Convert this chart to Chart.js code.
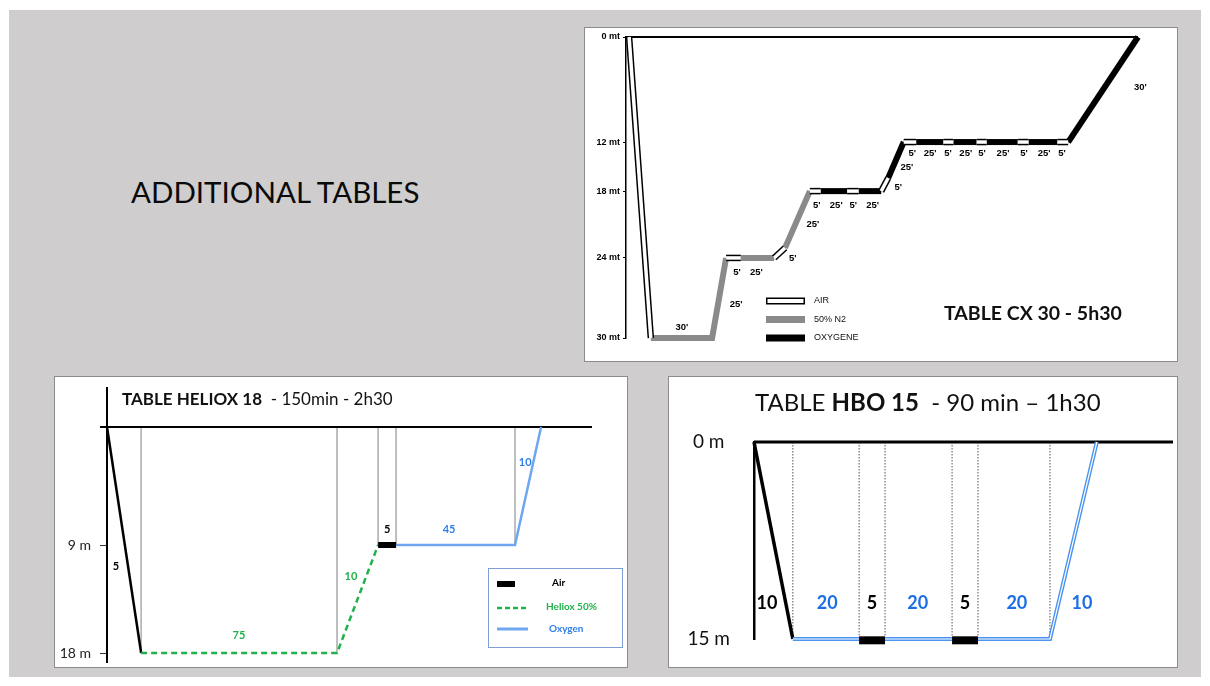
<!DOCTYPE html>
<html lang="fr">
<head>
<meta charset="utf-8">
<title>Additional tables</title>
<script src="https://cdn.jsdelivr.net/npm/chart.js@4.4.1/dist/chart.umd.min.js"></script>
<style>
    html, body { margin: 0; padding: 0; background: #fff; }
    body { width: 1210px; height: 686px; position: relative; overflow: hidden; font-family: Lato, 'Open Sans', sans-serif; }
    .diapo { position: absolute; left: 9px; top: 10px; width: 1192px; height: 667px; background: #cfcdcd; }
    .panneau { position: absolute; background: #fff; border: 1.5px solid #8c8c8c; box-sizing: border-box; }
    .zone { position: absolute; }
    .titre { position: absolute; white-space: pre; line-height: 1; color: #111; }
</style>
</head>
<body>
<div class="diapo"></div>
<div class="titre" style="left:131px;top:177px;font-size:29.5px;color:#0a0a0a;">ADDITIONAL TABLES</div>

<div class="panneau" style="left:584px;top:27px;width:594px;height:335px;"></div>
<div class="panneau" style="left:54px;top:376px;width:574px;height:292px;"></div>
<div class="panneau" style="left:668px;top:376px;width:510px;height:292px;"></div>

<div class="zone" style="left:586px;top:29px;width:590px;height:331px;"><canvas id="graphiqueCx"></canvas></div>
<div class="zone" style="left:56px;top:378px;width:570px;height:288px;"><canvas id="graphiqueHeliox"></canvas></div>
<div class="zone" style="left:670px;top:378px;width:506px;height:288px;"><canvas id="graphiqueHbo"></canvas></div>

<div class="titre" style="left:944px;top:303px;font-size:19.5px;font-weight:bold;">TABLE CX 30 - 5h30</div>
<div class="titre" style="left:122px;top:390px;font-size:17px;"><b>TABLE HELIOX 18</b>  - 150min - 2h30</div>
<div class="titre" style="left:755px;top:390px;font-size:24px;">TABLE <b>HBO 15</b>  - 90 min – 1h30</div>

<script>
// ── Données : [temps tel que dessiné (min), profondeur (m)] ─────────────────

const CX_PROFONDEURS = [0, 12, 18, 24, 30];
const CX_SURFACE = [[0, 0], [330, 0]];
const CX_AIR = [
    [[2, 0], [16, 30]],
    [[64.5, 24], [74, 24]],
    [[95.5, 24], [102.5, 23.1]],
    [[118.5, 18], [125.5, 18]],
    [[142.5, 18], [150, 18]],
    [[164.5, 18], [169, 16.4]],
    [[179, 12], [187, 12]],
    [[204.5, 12], [211, 12]],
    [[226, 12], [232.5, 12]],
    [[252.5, 12], [259.5, 12]],
    [[278, 12], [285, 12]],
];
const CX_N2 = [
    [[16, 30], [55.5, 30], [64.5, 24]],
    [[74, 24], [95.5, 24]],
    [[102.5, 23.1], [118.5, 18]],
];
const CX_OXYGENE = [
    [[125.5, 18], [142.5, 18]],
    [[150, 18], [164.5, 18]],
    [[169, 16.4], [179, 12]],
    [[187, 12], [204.5, 12]],
    [[211, 12], [226, 12]],
    [[232.5, 12], [252.5, 12]],
    [[259.5, 12], [278, 12]],
    [[285, 12], [330, 0]],
];
const CX_ETIQUETTES = [
    ["30'", 36, 29.2], ["25'", 71, 27.5], ["5'", 71.5, 25.1], ["25'", 84, 25.1], ["5'", 107.5, 24],
    ["25'", 120.5, 21], ["5'", 123, 19.3], ["25'", 135.5, 19.3], ["5'", 146.5, 19.3], ["25'", 159, 19.3],
    ["5'", 175.5, 17.6], ["25'", 181, 15.1],
    ["5'", 184.5, 13.35], ["25'", 196, 13.35], ["5'", 207.5, 13.35], ["25'", 219, 13.35], ["5'", 229.5, 13.35],
    ["25'", 243, 13.35], ["5'", 256.5, 13.35], ["25'", 269.5, 13.35], ["5'", 281, 13.35],
    ["30'", 331.5, 5.8],
];
const CX_LEGENDE = ['AIR', '50% N2', 'OXYGENE'];

const HELIOX_PROFONDEURS = [9, 18];
const HELIOX_SURFACE = [[-2.4, 0], [167.6, 0]];
const HELIOX_DESCENTE = [[0, 0], [11.8, 18]];
const HELIOX_HELIOX = [[11.8, 18], [79.5, 18], [93.7, 9]];
const HELIOX_AIR = [[93.7, 9], [99.9, 9]];
const HELIOX_OXYGENE = [[99.9, 9], [141, 9], [150, 0]];
const HELIOX_REPERES = [[11.8, 18], [79.5, 18], [93.7, 9], [99.9, 9], [141, 9]];
const HELIOX_ETIQUETTES = [
    ['5', 3.1, 10.75, 'air'], ['75', 45.6, 16.5, 'heliox'], ['10', 84.3, 11.6, 'heliox'],
    ['5', 96.8, 7.8, 'air'], ['45', 118.2, 7.8, 'oxygene'], ['10', 144.5, 2.7, 'oxygene'],
];
const HELIOX_LEGENDE = ['Air', 'Heliox 50%', 'Oxygen'];

const HBO_PROFONDEURS = [0, 15];
const HBO_SURFACE = [[0, 0], [110, 0]];
const HBO_DESCENTE = [[0, 0], [10.2, 15]];
const HBO_OXYGENE = [[10.2, 15], [77.7, 15], [90, 0]];
const HBO_AIR = [
    [[27.6, 15.1], [34.4, 15.1]],
    [[52, 15.1], [58.8, 15.1]],
];
const HBO_REPERES = [10.2, 27.6, 34.4, 52, 58.8, 77.7];
const HBO_ETIQUETTES = [
    ['10', 3.4, 12.3, 'air'], ['20', 19.2, 12.3, 'oxygene'], ['5', 31, 12.3, 'air'],
    ['20', 43, 12.3, 'oxygene'], ['5', 55.4, 12.3, 'air'], ['20', 69, 12.3, 'oxygene'],
    ['10', 86.1, 12.3, 'oxygene'],
];

const VERT = '#20b24a';
const BLEU = '#6ea7ef';
const BLEU_TEXTE = '#2f7fe8';
const BLEU_HBO = '#4b93ef';
const BLEU_HBO_TEXTE = '#1c6fe6';

// ── Échelle de profondeur par paliers (schéma non proportionnel) ────────────

class EchelleProfondeur extends Chart.LinearScale {
    static id = 'profondeur';
    static defaults = Chart.LinearScale.defaults;

    getPixelForValue(valeur) {
        const reperes = this.options.reperes ?? [this.min, this.max];
        const fractions = this.options.fractions ?? [0, 1];
        let i = 1;
        while (i < reperes.length - 1 && valeur > reperes[i]) i++;
        const a = reperes[i - 1], b = reperes[i];
        const f = fractions[i - 1] + (valeur - a) / (b - a) * (fractions[i] - fractions[i - 1]);
        return this.top + f * (this.bottom - this.top);
    }
}
Chart.register(EchelleProfondeur);

function trace(points, style) {
    return {
        data: points.map(([x, y]) => ({ x, y })),
        pointRadius: 0,
        fill: false,
        tension: 0,
        clip: false,
        borderCapStyle: 'butt',
        borderJoinStyle: 'miter',
        ...style,
    };
}

function axeProfondeur(valeurs, largeur, extra) {
    return {
        type: 'profondeur',
        afterBuildTicks: s => { s.ticks = valeurs.map(v => ({ value: v })); },
        afterFit: s => { s.width = largeur; s.paddingTop = 0; s.paddingBottom = 0; },
        ...extra,
    };
}

function creerPluginEtiquettes(etiquettes, police, couleurs) {
    return {
        id: 'etiquettes',
        afterDatasetsDraw(chart) {
            const { ctx, scales: { x, y } } = chart;
            ctx.save();
            ctx.font = police;
            ctx.textAlign = 'center';
            ctx.textBaseline = 'middle';
            etiquettes.forEach(([texte, vx, vy, gaz]) => {
                ctx.fillStyle = couleurs[gaz] ?? '#000';
                ctx.fillText(texte, x.getPixelForValue(vx), y.getPixelForValue(vy));
            });
            ctx.restore();
        }
    };
}

const optionsBase = {
    responsive: true,
    maintainAspectRatio: false,
    animation: false,
    events: [],
    plugins: { legend: { display: false }, tooltip: { enabled: false }, title: { display: false } },
};

// ── TABLE CX 30 ─────────────────────────────────────────────────────────────

function creerGraphiqueCx() {
    const ctx = document.getElementById('graphiqueCx');
    const datasets = [
        ...CX_AIR.map(s => trace(s, { borderColor: '#fff', borderWidth: 3.5, order: 1 })),
        ...CX_AIR.map(s => trace(s, { borderColor: '#000', borderWidth: 6.5, order: 2 })),
        ...CX_OXYGENE.map(s => trace(s, { borderColor: '#000', borderWidth: 6, order: 3 })),
        ...CX_N2.map(s => trace(s, { borderColor: '#8a8a8a', borderWidth: 6, order: 4 })),
        trace(CX_SURFACE, { borderColor: '#000', borderWidth: 1.8, order: 5 }),
    ];

    const legende = {
        id: 'legendeCx',
        afterDraw(chart) {
            const c = chart.ctx;
            c.save();
            c.font = '9px "Liberation Sans", Arial, sans-serif';
            c.textBaseline = 'middle';
            CX_LEGENDE.forEach((libelle, i) => {
                const yy = 272 + i * 18.5;
                c.fillStyle = i === 1 ? '#8a8a8a' : '#000';
                c.fillRect(180, yy - 3.5, 39, 7);
                if (i === 0) { c.fillStyle = '#fff'; c.fillRect(181.5, yy - 2, 36, 4); }
                c.fillStyle = '#111';
                c.fillText(libelle, 228, yy);
            });
            c.restore();
        }
    };

    new Chart(ctx, {
        type: 'line',
        data: { datasets },
        options: {
            ...optionsBase,
            layout: { padding: { left: 0, top: 8, right: 38, bottom: 22 } },
            scales: {
                x: { type: 'linear', display: false, min: 0, max: 330 },
                y: axeProfondeur(CX_PROFONDEURS, 40, {
                    min: 0, max: 30,
                    reperes: CX_PROFONDEURS,
                    fractions: [0, 0.349, 0.512, 0.734, 1],
                    border: { display: true, color: '#000', width: 1.5 },
                    grid: { drawOnChartArea: false, drawTicks: true, tickLength: 3, color: '#000' },
                    ticks: {
                        padding: 3, color: '#000',
                        font: { family: '"Liberation Sans", Arial, sans-serif', size: 9, weight: 'bold' },
                        callback: v => v + ' mt',
                    },
                }),
            },
        },
        plugins: [
            creerPluginEtiquettes(CX_ETIQUETTES, 'bold 9.5px "Liberation Sans", Arial, sans-serif', {}),
            legende,
        ],
    });
}

// ── TABLE HELIOX 18 ─────────────────────────────────────────────────────────

function creerGraphiqueHeliox() {
    const ctx = document.getElementById('graphiqueHeliox');
    const datasets = [
        trace(HELIOX_AIR, { borderColor: '#000', borderWidth: 6, order: 1 }),
        trace(HELIOX_OXYGENE, { borderColor: BLEU, borderWidth: 2.5, order: 2 }),
        trace(HELIOX_HELIOX, { borderColor: VERT, borderWidth: 2.5, borderDash: [6, 4], order: 2 }),
        trace(HELIOX_DESCENTE, { borderColor: '#000', borderWidth: 2.5, order: 2 }),
        trace(HELIOX_SURFACE, { borderColor: '#000', borderWidth: 2.2, order: 3 }),
        ...HELIOX_REPERES.map(([t, p]) => trace([[t, 0], [t, p]], { borderColor: '#b5b5b5', borderWidth: 1, order: 4 })),
    ];

    const legende = {
        id: 'legendeHeliox',
        afterDraw(chart) {
            const c = chart.ctx;
            c.save();
            c.strokeStyle = '#7d9fd6';
            c.lineWidth = 1;
            c.strokeRect(432.5, 190.5, 134, 79);
            c.fillStyle = '#000';
            c.fillRect(441, 203, 18, 6);
            c.lineWidth = 2.5;
            c.strokeStyle = VERT;
            c.setLineDash([5, 3]);
            c.beginPath(); c.moveTo(441, 230); c.lineTo(471, 230); c.stroke();
            c.setLineDash([]);
            c.lineWidth = 3;
            c.strokeStyle = BLEU;
            c.beginPath(); c.moveTo(441, 251); c.lineTo(472, 251); c.stroke();
            c.font = 'bold 10px Lato, sans-serif';
            c.textBaseline = 'middle';
            c.fillStyle = '#000'; c.fillText(HELIOX_LEGENDE[0], 496, 205);
            c.fillStyle = VERT; c.fillText(HELIOX_LEGENDE[1], 490, 229);
            c.fillStyle = BLEU_TEXTE; c.fillText(HELIOX_LEGENDE[2], 493, 251);
            c.restore();
        }
    };

    new Chart(ctx, {
        type: 'line',
        data: { datasets },
        options: {
            ...optionsBase,
            layout: { padding: { left: 0, top: 10, right: 34, bottom: 4 } },
            scales: {
                x: { type: 'linear', display: false, min: 0, max: 167.6 },
                y: axeProfondeur(HELIOX_PROFONDEURS, 51, {
                    min: -3.1, max: 18.7,
                    reperes: [-3.1, 0, 9, 18, 18.7],
                    fractions: [0, 0.1423, 0.573, 0.9672, 1],
                    border: { display: true, color: '#000', width: 2 },
                    grid: { drawOnChartArea: false, drawTicks: true, tickLength: 7, color: '#333' },
                    ticks: {
                        padding: 9, color: '#222',
                        font: { family: 'Lato, sans-serif', size: 14 },
                        callback: v => v + ' m',
                    },
                }),
            },
        },
        plugins: [
            creerPluginEtiquettes(HELIOX_ETIQUETTES, 'bold 11px Lato, sans-serif',
                { air: '#000', heliox: VERT, oxygene: BLEU_TEXTE }),
            legende,
        ],
    });
}

// ── TABLE HBO 15 ────────────────────────────────────────────────────────────

function creerGraphiqueHbo() {
    const ctx = document.getElementById('graphiqueHbo');
    const datasets = [
        ...HBO_AIR.map(s => trace(s, { borderColor: '#000', borderWidth: 8, order: 1 })),
        trace(HBO_OXYGENE, { borderColor: '#fff', borderWidth: 1.2, order: 2 }),
        trace(HBO_OXYGENE, { borderColor: BLEU_HBO, borderWidth: 4, order: 3 }),
        trace(HBO_DESCENTE, { borderColor: '#000', borderWidth: 3.5, order: 3 }),
        trace(HBO_SURFACE, { borderColor: '#000', borderWidth: 3, order: 4 }),
        ...HBO_REPERES.map(t => trace([[t, 0], [t, 15]], { borderColor: '#555', borderWidth: 1, borderDash: [1.5, 1.5], order: 5 })),
    ];

    new Chart(ctx, {
        type: 'line',
        data: { datasets },
        options: {
            ...optionsBase,
            layout: { padding: { left: 0, top: 64, right: 3, bottom: 27 } },
            scales: {
                x: { type: 'linear', display: false, min: 0, max: 110 },
                y: axeProfondeur(HBO_PROFONDEURS, 84, {
                    min: 0, max: 15,
                    reperes: [0, 15],
                    fractions: [0, 1],
                    border: { display: true, color: '#000', width: 2.5 },
                    grid: { drawOnChartArea: false, drawTicks: false, tickLength: 0 },
                    ticks: {
                        padding: 24, color: '#111', crossAlign: 'center',
                        font: { family: 'Lato, sans-serif', size: 19 },
                        callback: v => v + ' m',
                    },
                }),
            },
        },
        plugins: [
            creerPluginEtiquettes(HBO_ETIQUETTES, 'bold 18px Lato, sans-serif',
                { air: '#000', oxygene: BLEU_HBO_TEXTE }),
        ],
    });
}

document.addEventListener('DOMContentLoaded', () => {
    creerGraphiqueCx();
    creerGraphiqueHeliox();
    creerGraphiqueHbo();
});
</script>
</body>
</html>
